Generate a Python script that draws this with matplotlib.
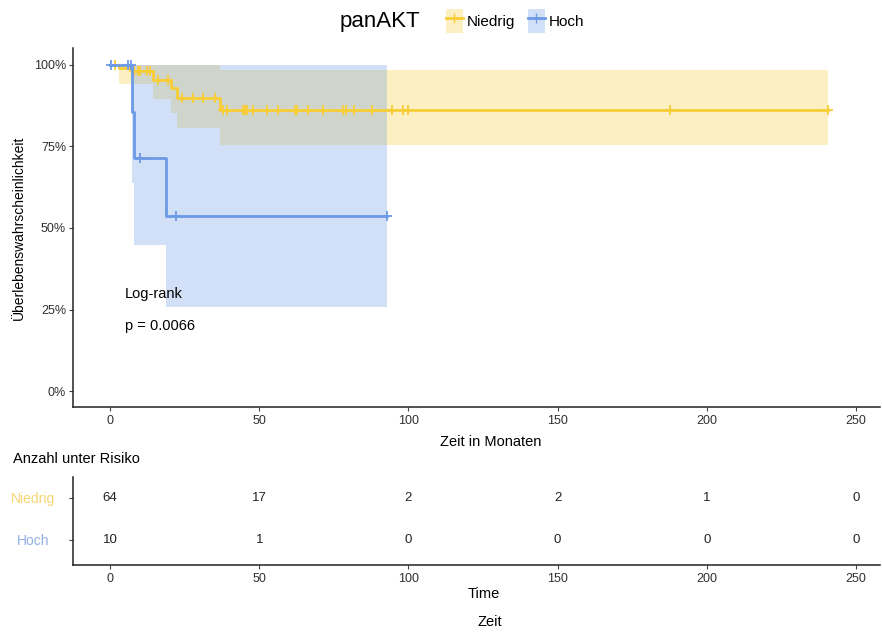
import numpy as np
import matplotlib
matplotlib.use("Agg")
import matplotlib.pyplot as plt
from matplotlib.patches import Patch
from matplotlib.lines import Line2D
from matplotlib.ticker import FuncFormatter

plt.rcParams['font.family'] = ['Liberation Sans', 'DejaVu Sans']

# Kaplan-Meier steps (time in months, survival in %)
nied_t = [0, 3.0, 7.3, 14.4, 20.5, 22.4, 36.8, 240.5]
nied_s = [100, 99.0, 98.0, 95.4, 93.0, 89.8, 86.2, 86.2]
nied_lo = [100, 94.1, 94.1, 89.6, 85.2, 80.6, 75.5, 75.5]
nied_up = [100, 100, 100, 100, 100, 100, 98.5, 98.5]
nied_cens = [1.7, 8.0, 9.5, 10.0, 12.3, 13.4, 16.2, 19.5, 24.0, 27.9, 31.0, 35.2,
             38.0, 39.1, 44.7, 45.2, 45.8, 48.0, 52.5, 56.4, 62.0, 62.5, 66.3,
             71.4, 78.0, 79.2, 81.6, 87.8, 94.5, 98.3, 99.8, 187.6, 240.5]

hoch_t = [0, 7.5, 8.1, 18.8, 92.8]
hoch_s = [100, 85.7, 71.4, 53.6, 53.6]
hoch_lo = [100, 63.8, 44.8, 25.9, 25.9]
hoch_up = [100, 100, 100, 100, 100]
hoch_cens = [0.2, 6.1, 6.9, 10.0, 22.1, 92.8]

risk_times = [0, 50, 100, 150, 200, 250]
nied_risk = [64, 17, 2, 2, 1, 0]
hoch_risk = [10, 1, 0, 0, 0, 0]

groups = ["Niedrig", "Hoch"]
line_col = {"Niedrig": "#F8CD36", "Hoch": "#6C9AE6"}
label_col = {"Niedrig": "#F7D570", "Hoch": "#93AEE6"}


def step_value(t, s, x):
    idx = np.searchsorted(t, x, side="right") - 1
    return np.asarray(s)[idx]


fig = plt.figure(figsize=(8.82, 6.33), dpi=100)
W, H = 882, 633
ax = fig.add_axes([73 / W, 1 - 407 / H, (880 - 73) / W, (407 - 48) / H])
ax_r = fig.add_axes([73 / W, 1 - 565 / H, (880 - 73) / W, (565 - 477) / H])

curves = {
    "Niedrig": (nied_t, nied_s, nied_lo, nied_up, nied_cens),
    "Hoch": (hoch_t, hoch_s, hoch_lo, hoch_up, hoch_cens),
}
for g in groups:
    t, s, lo, up, cens = curves[g]
    ax.fill_between(t, lo, up, step="post", color=line_col[g], alpha=0.3, lw=0)
for g in groups:
    t, s, lo, up, cens = curves[g]
    ax.step(t, s, where="post", color=line_col[g], lw=2)
    ax.plot(cens, step_value(t, s, cens), ls="none", marker="+", ms=7,
            mew=1.3, color=line_col[g])

ax.text(4.9, 29.8, "Log-rank", fontsize=10.5, va="center", ha="left")
ax.text(4.9, 19.9, "p = 0.0066", fontsize=10.5, va="center", ha="left")

ax.set_xlim(-12.4, 258)
ax.set_ylim(-4.9, 105.2)
ax.set_xticks(risk_times)
ax.set_yticks([0, 25, 50, 75, 100])
ax.yaxis.set_major_formatter(FuncFormatter(lambda v, p: f"{v:.0f}%"))
ax.set_xlabel("Zeit in Monaten", fontsize=10.5)
ax.xaxis.set_label_coords((491 - 73) / 807, -0.078)
ax.set_ylabel("Überlebenswahrscheinlichkeit", fontsize=10)
ax.yaxis.set_label_coords(-0.059, 0.5)

# risk table
rows = {"Niedrig": 2, "Hoch": 1}
risks = {"Niedrig": nied_risk, "Hoch": hoch_risk}
for g in groups:
    for x, n in zip(risk_times, risks[g]):
        ax_r.text(x, rows[g], str(n), ha="center", va="center", fontsize=9.5,
                  color="#222222")
ax_r.set_xlim(-12.4, 258)
ax_r.set_ylim(0.4, 2.5)
ax_r.set_xticks(risk_times)
ax_r.set_yticks([rows[g] for g in groups])
ax_r.set_yticklabels(groups, fontsize=10)
for lbl in ax_r.get_yticklabels():
    lbl.set_horizontalalignment("center")
ax_r.tick_params(axis="y", pad=26)
ax_r.set_xlabel("Time", fontsize=10.5)
ax_r.xaxis.set_label_coords((484 - 73) / 807, -0.25)

for a in (ax, ax_r):
    for side in ("top", "right"):
        a.spines[side].set_visible(False)
    for side in ("left", "bottom"):
        a.spines[side].set_linewidth(1.1)
        a.spines[side].set_color("#222222")
    a.tick_params(length=3, width=0.8, color="#444444", labelcolor="#303030")
    a.tick_params(axis="x", labelsize=9, pad=3)
ax.tick_params(axis="y", labelsize=9, pad=2)
for lbl, g in zip(ax_r.get_yticklabels(), groups):
    lbl.set_color(label_col[g])

fig.text(13 / W, 1 - 459 / H, "Anzahl unter Risiko", fontsize=10.5, va="center")
fig.text(490 / W, 1 - 622 / H, "Zeit", fontsize=10.5, va="center", ha="center")

fig.text(380 / W, 1 - 21 / H, "panAKT", fontsize=16, va="center", ha="center")
handles = [(Patch(color=line_col[g], alpha=0.3, lw=0),
            Line2D([], [], color=line_col[g], lw=2, marker="+", ms=7))
           for g in groups]
fig.legend(handles, groups, loc="center left", bbox_to_anchor=(432 / W, 1 - 21 / H),
           ncol=2, frameon=False, fontsize=11, handlelength=1.1, handleheight=2.0,
           columnspacing=0.8, handletextpad=0.3)

fig.savefig("out.png", dpi=100)
